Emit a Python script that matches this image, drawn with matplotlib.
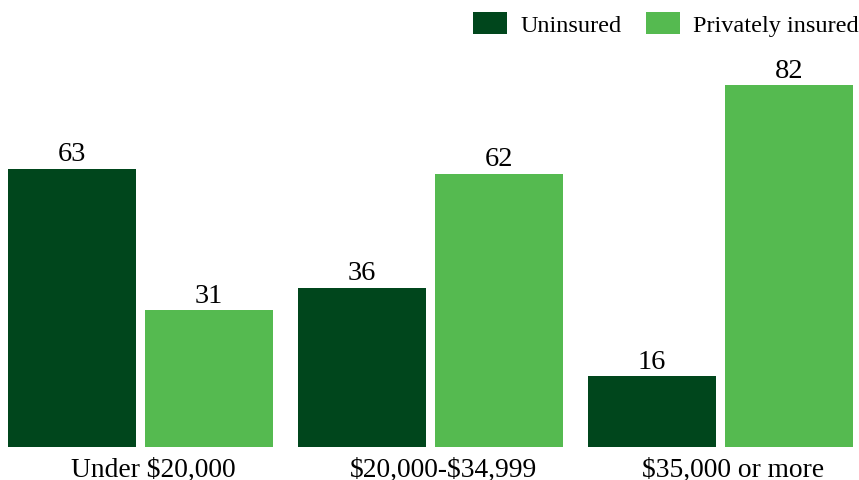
import matplotlib
matplotlib.use("Agg")
import matplotlib.pyplot as plt
import numpy as np

categories = ["Under $20,000", "$20,000-$34,999", "$35,000 or more"]
uninsured = [63, 36, 16]
private = [31, 62, 82]
series_names = ["Uninsured", "Privately insured"]
colors = ["#00461c", "#55ba50"]

plt.rcParams['font.family'] = ['Liberation Serif', 'DejaVu Serif']
plt.rcParams['text.parse_math'] = False

fig = plt.figure(figsize=(8.59, 4.81), dpi=100)
ax = fig.add_axes([0, 1 - 448/481, 1, 448/481])

x = np.arange(len(categories))
w = 0.44
off = 0.236
b1 = ax.bar(x - off, uninsured, w, color=colors[0], label=series_names[0])
b2 = ax.bar(x + off, private, w, color=colors[1], label=series_names[1])
ax.bar_label(b1, padding=2, fontsize=20.5)
ax.bar_label(b2, padding=2, fontsize=20.5)

ax.set_xlim(-0.484, 2.478)
ax.set_ylim(0, 101.6)
ax.set_xticks(x + 0.045)
ax.set_xticklabels(categories, fontsize=19.8)
ax.tick_params(axis='x', length=0, pad=7)
ax.set_yticks([])
for s in ax.spines.values():
    s.set_visible(False)

leg = ax.legend(loc='upper right', bbox_to_anchor=(1.017, 1.003), frameon=False,
                ncol=2, fontsize=17.5, handlelength=1.4, handleheight=1.0,
                handletextpad=0.55, columnspacing=1.0, borderaxespad=0.2)

fig.savefig("out.png", dpi=100)
